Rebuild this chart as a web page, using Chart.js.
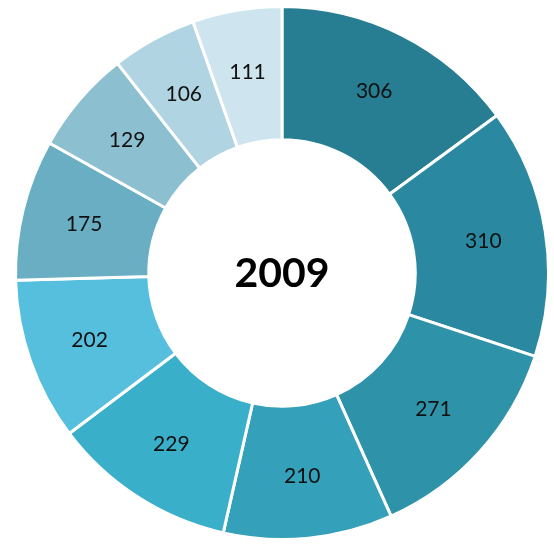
<!DOCTYPE html>
<html><head><meta charset="utf-8">
<script src="https://cdn.jsdelivr.net/npm/chart.js@4/dist/chart.umd.min.js"></script>
<style>html,body{margin:0;padding:0;background:#fff}#wrap{width:554px;height:554px}</style>
</head><body><div id="wrap"><canvas id="c" width="554" height="554"></canvas></div>
<script>
const categories = ["A","B","C","D","E","F","G","H","I","J"];
const values = [306, 310, 271, 210, 229, 202, 175, 129, 106, 111];
const colors = ["#277d91","#2a89a0","#2e93a9","#34a0b9","#3aafca","#55bfdd","#6aaec4","#8cc0d1","#b1d4e2","#cee4ee"];
const centerTitle = "2009";

const labelPlugin = {
  id: 'labels',
  afterDatasetsDraw(chart) {
    const ctx = chart.ctx;
    const meta = chart.getDatasetMeta(0);
    ctx.save();
    ctx.fillStyle = '#111';
    ctx.font = '21px Lato, "Open Sans", sans-serif';
    ctx.textAlign = 'center';
    ctx.textBaseline = 'middle';
    meta.data.forEach((arc, i) => {
      const mid = (arc.startAngle + arc.endAngle) / 2;
      const r = (arc.innerRadius + arc.outerRadius) / 2 + 4;
      ctx.fillText(String(values[i]), arc.x + Math.cos(mid) * r, arc.y + Math.sin(mid) * r);
    });
    const a = meta.data[0];
    ctx.font = 'bold 41px Lato, "Liberation Sans", sans-serif';
    ctx.fillStyle = '#000';
    ctx.fillText(centerTitle, a.x, a.y + 1);
    ctx.restore();
  }
};

new Chart(document.getElementById('c'), {
  type: 'doughnut',
  data: { labels: categories, datasets: [{ data: values, backgroundColor: colors, borderColor: '#ffffff', borderWidth: 3 }] },
  options: {
    responsive: false, animation: false, cutout: '50%',
    layout: { padding: { left: 14, right: 4, top: 5, bottom: 13 } },
    plugins: { legend: { display: false }, tooltip: { enabled: false } }
  },
  plugins: [labelPlugin]
});
</script></body></html>
